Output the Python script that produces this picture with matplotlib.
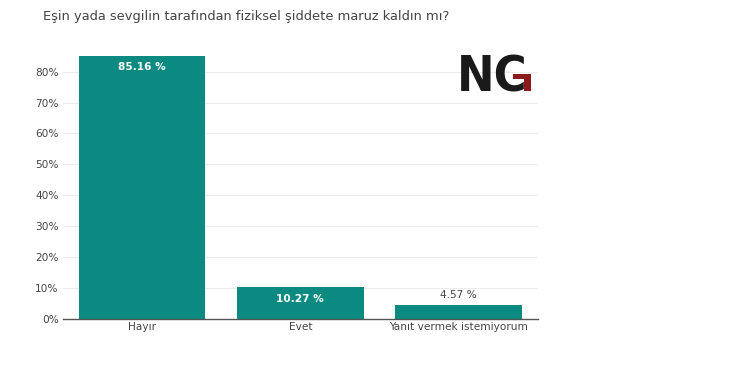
import matplotlib
matplotlib.use("Agg")
import matplotlib.pyplot as plt
from matplotlib.patches import Polygon

categories = ["Hayır", "Evet", "Yanıt vermek istemiyorum"]
values = [85.16, 10.27, 4.57]
yticks = [0, 10, 20, 30, 40, 50, 60, 70, 80]
title = "Eşin yada sevgilin tarafından fiziksel şiddete maruz kaldın mı?"

plt.rcParams['font.family'] = ['DejaVu Sans']
fig = plt.figure(figsize=(7.5, 3.71), dpi=100)
ax = fig.add_axes([0.084, 0.140, 0.633, 0.747])
color = "#0b8a82"
x = list(range(len(categories)))
bars = ax.bar(x, values, width=0.8, color=color, zorder=2)
ax.set_xlim(-0.5, 2.5)
ax.set_ylim(0, 89.6)
ax.set_yticks(yticks)
ax.set_yticklabels([f"{t}%" for t in yticks], fontsize=7.6, color="#444444")
ax.set_xticks(x)
ax.set_xticklabels(categories, fontsize=7.6, color="#444444")
ax.tick_params(axis='both', length=0, pad=3)
ax.tick_params(axis='x', pad=2)
ax.grid(axis='y', color="#ebebeb", linewidth=0.8, zorder=0)
for s in ['top', 'right', 'left']:
    ax.spines[s].set_visible(False)
ax.spines['bottom'].set_color("#555555")
ax.spines['bottom'].set_linewidth(1.0)
ax.spines['bottom'].set_zorder(3)

for xi, v in zip(x, values):
    label = f"{v:.2f} %"
    if v > 8:
        ax.text(xi, v - 2.2, label, ha='center', va='top', fontsize=7.6, color='white', fontweight='bold')
    else:
        ax.text(xi, v + 1.5, label, ha='center', va='bottom', fontsize=7.6, color='#444444')

fig.text(0.057, 0.955, title, fontsize=9.4, color="#444444", ha='left', va='center')

# NG logo
fig.text(0.609, 0.79, "NC", fontsize=36, fontweight='bold', fontstretch='condensed',
         color="#1a1a1a", ha='left', va='center', family='DejaVu Sans')
fig.patches.append(Polygon([[0.684, 0.800], [0.708, 0.800], [0.708, 0.755], [0.699, 0.755], [0.699, 0.786], [0.684, 0.786]],
                           closed=True, transform=fig.transFigure, facecolor="#8b1a1a", edgecolor='none'))

fig.savefig("out.png", dpi=100, facecolor='white')
